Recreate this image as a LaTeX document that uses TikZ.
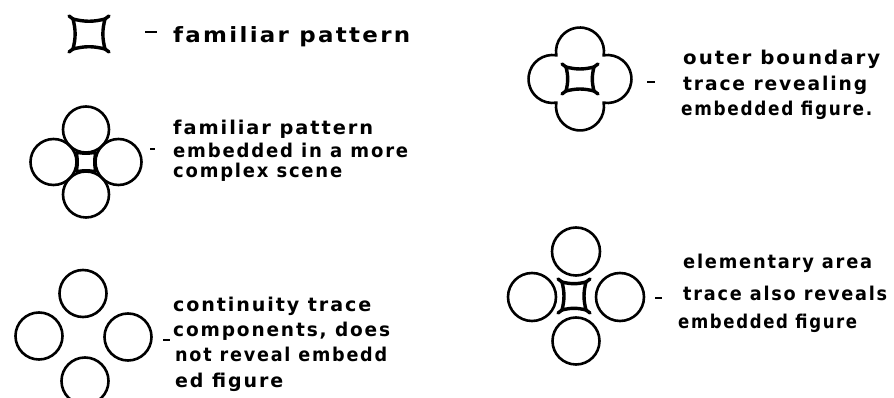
\documentclass[tikz,border=0pt]{standalone}
\usepackage{fontspec}
\usepackage{graphicx}
\newfontfamily\hand[LetterSpace=10]{DejaVu Sans}
\newcommand\hw[2]{\resizebox{#1pt}{\height}{#2}}
\tikzset{
  ink/.style={line width=2.6pt, black},
  sqline/.style={line width=3.4pt, black, line join=round, line cap=round},
  dashmark/.style={line width=2.4pt, black},
  txt/.style={anchor=base west, inner sep=0pt, font=\hand\bfseries\fontsize{19}{22}\selectfont},
  bigtxt/.style={txt, font=\hand\bfseries\fontsize{21}{24}\selectfont}
}
% concave square with corner spurs: x y halfwidth halfheight
\newcommand\cornsq[4]{%
  \begin{scope}[shift={(#1,#2)}]
    \draw[sqline] (-#3,-#4) to[bend left=14] (#3,-#4) to[bend left=14] (#3,#4)
      to[bend left=14] (-#3,#4) to[bend left=14] (-#3,-#4);
    \draw[sqline] (-#3,-#4) -- ++(-4,-3);
    \draw[sqline] (#3,-#4) -- ++(4,-3);
    \draw[sqline] (#3,#4) -- ++(4,3);
    \draw[sqline] (-#3,#4) -- ++(-4,3);
  \end{scope}}
\begin{document}
\begin{tikzpicture}[x=1pt,y=1pt]
\useasboundingbox (0,0) rectangle (894,398);
\clip (0,0) rectangle (894,398);

% ---------- familiar pattern ----------
\cornsq{89}{364}{16}{15}
\draw[dashmark] (145,366) -- (157,366);
\node[bigtxt] (t0) at (173,355) {\hw{237}{familiar pattern}};

% ---------- embedded in complex scene ----------
\foreach \dx/\dy in {0/32.5, 0/-32.5, -32.5/0, 32.5/0}
  \draw[ink] (86+\dx,236+\dy) circle[radius=23];
\draw[sqline, line width=3pt] (76.5,226.5) to[bend left=10] (95.5,226.5) to[bend left=10] (95.5,245.5)
  to[bend left=10] (76.5,245.5) to[bend left=10] (76.5,226.5);
\draw[dashmark] (150,249) -- (155,249);
\node[txt] (t1a) at (173,263) {\hw{200}{familiar pattern}};
\node[txt] (t1b) at (173,240) {\hw{235}{embedded in a more}};
\node[txt] (t1c) at (173,220) {\hw{169}{complex scene}};

% ---------- continuity trace ----------
\draw[ink] (83,104.5) circle[radius=23.5];
\draw[ink] (39,62) circle[radius=23.5];
\draw[ink] (128,61) circle[radius=23.5];
\draw[ink] (85,17) circle[radius=23.5];
\draw[dashmark] (163,58) -- (170,58);
\node[txt] (t2a) at (173,86) {\hw{198}{continuity trace}};
\node[txt] (t2b) at (173,61) {\hw{217}{components, does}};
\node[txt] (t2c) at (175,36) {\hw{212}{not reveal embedd}};
\node[txt] (t2d) at (175,10) {\hw{108}{ed figure}};

% ---------- outer boundary ----------
\draw[ink] (580,319) ++(23.7,-23.7)
  arc[start angle=-99, end angle=99, radius=24]
  arc[start angle=-9, end angle=189, radius=24]
  arc[start angle=81, end angle=279, radius=24]
  arc[start angle=171, end angle=369, radius=24] -- cycle;
\cornsq{580}{319}{14}{12}
\draw[dashmark] (647,316) -- (655,316);
\node[txt] (t3a) at (683,333) {\hw{197}{outer boundary}};
\node[txt] (t3b) at (683,307) {\hw{184}{trace revealing}};
\node[txt] (t3c) at (681,282) {\hw{191}{embedded figure.}};

% ---------- elementary area ----------
\draw[ink] (576,146.5) circle[radius=24];
\draw[ink] (532,101) circle[radius=24];
\draw[ink] (620,101) circle[radius=24];
\draw[ink] (576,57) circle[radius=23.5];
\cornsq{574}{102}{12}{14}
\draw[dashmark] (655,100) -- (662,100);
\node[txt] (t4a) at (683,129) {\hw{189}{elementary area}};
\node[txt] (t4b) at (683,97) {\hw{204}{trace also reveals}};
\node[txt] (t4c) at (678,69) {\hw{179}{embedded figure}};
\end{tikzpicture}
\end{document}
